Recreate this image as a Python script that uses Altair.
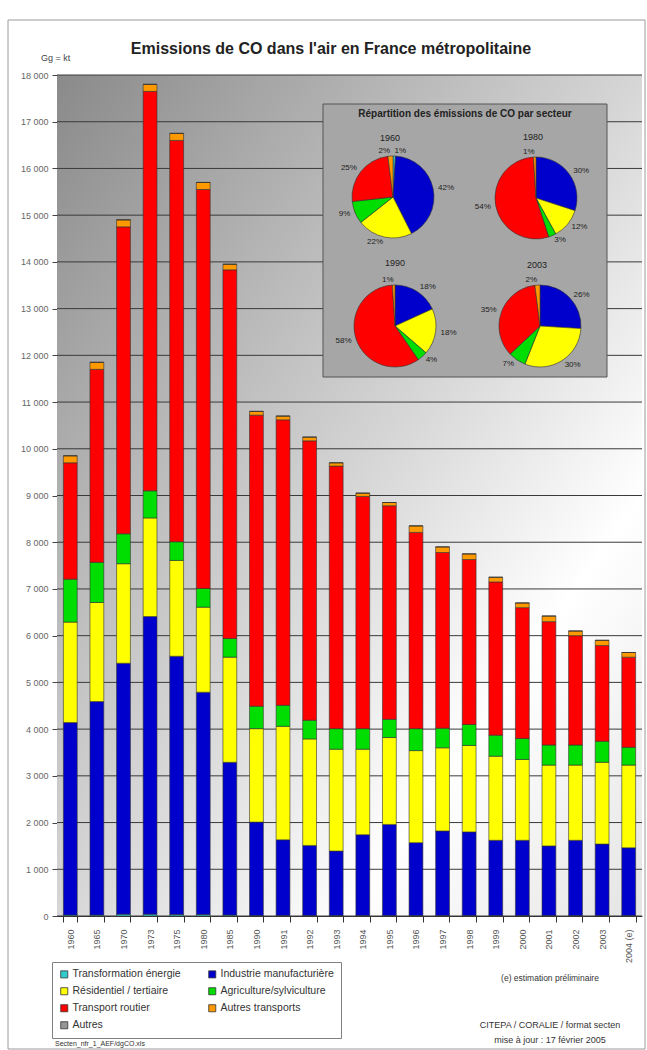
import altair as alt
import pandas as pd

# ---- data (Gg = kt) ----
years = ["1960", "1965", "1970", "1973", "1975", "1980", "1985", "1990", "1991",
         "1992", "1993", "1994", "1995", "1996", "1997", "1998", "1999", "2000",
         "2001", "2002", "2003", "2004 (e)"]

sectors = ["Transformation énergie", "Industrie manufacturière",
           "Résidentiel / tertiaire", "Agriculture/sylviculture",
           "Transport routier", "Autres transports", "Autres"]
sector_colors = ["#33cccc", "#0000cc", "#ffff00", "#00dd00",
                 "#ff0000", "#ff9900", "#969696"]
# legend is filled column by column: this order gives two rows per pair
legend_order = ["Transformation énergie", "Résidentiel / tertiaire",
                "Transport routier", "Autres", "Industrie manufacturière",
                "Agriculture/sylviculture", "Autres transports"]

transformation = [20, 20, 40, 40, 30, 30, 20, 10, 10, 10, 10, 10, 10, 10, 10,
                  10, 10, 10, 10, 10, 10, 10]
industrie = [4120, 4570, 5370, 6370, 5530, 4760, 3270, 2000, 1620, 1500, 1380,
             1730, 1950, 1560, 1810, 1790, 1610, 1610, 1490, 1610, 1530, 1450]
residentiel = [2150, 2120, 2130, 2110, 2050, 1820, 2250, 2000, 2430, 2280, 2180,
               1830, 1860, 1970, 1780, 1850, 1800, 1730, 1730, 1610, 1750, 1770]
agriculture = [920, 860, 640, 580, 400, 400, 400, 480, 450, 400, 440, 440, 390,
               470, 420, 450, 450, 450, 430, 430, 450, 380]
transport_routier = [2490, 4130, 6570, 8550, 8590, 8540, 7890, 6230, 6110, 5980,
                     5620, 4970, 4570, 4200, 3760, 3530, 3280, 2800, 2640, 2340,
                     2050, 1930]
autres_transports = [150, 150, 150, 150, 150, 150, 120, 80, 80, 80, 70, 70, 70,
                     140, 120, 120, 100, 100, 120, 100, 110, 100]
autres = [0] * 22

y_ticks = list(range(0, 18001, 1000))

# shares of each sector (%) for the four inset pies
pie_years = ["1960", "1980", "1990", "2003"]
pie_1960 = [1, 42, 22, 9, 25, 2]
pie_1980 = [0, 30, 12, 3, 54, 1]
pie_1990 = [0, 18, 18, 4, 58, 1]
pie_2003 = [0, 26, 30, 7, 35, 2]

title_text = "Emissions de CO dans l'air en France métropolitaine"
unit_text = "Gg = kt"
inset_title = "Répartition des émissions de CO par secteur"
note_estimate = "(e) estimation préliminaire"
note_file = "Secten_nfr_1_AEF/dgCO.xls"
note_source = "CITEPA /  CORALIE / format secten"
note_update = "mise à jour : 17 février 2005"

# ---- tables ----
series = [transformation, industrie, residentiel, agriculture,
          transport_routier, autres_transports, autres]
bar_rows = []
for i, (name, vals) in enumerate(zip(sectors, series)):
    for yr, v in zip(years, vals):
        bar_rows.append({"annee": yr, "secteur": name, "ordre": i, "valeur": v})
bars_df = pd.DataFrame(bar_rows)

pie_rows = []
for yr, shares in zip(pie_years, [pie_1960, pie_1980, pie_1990, pie_2003]):
    for i, p in enumerate(shares):
        if p > 0:
            pie_rows.append({"annee": yr, "secteur": sectors[i], "ordre": i, "pct": p})
pie_df = pd.DataFrame(pie_rows)

# ---- layout ----
W, H = 585, 841
FONT = "Liberation Sans"
color_scale = alt.Scale(domain=legend_order,
                        range=[sector_colors[sectors.index(s)] for s in legend_order])
y_scale = alt.Scale(domain=[0, 18000], nice=False)
y_axis = alt.Axis(title=unit_text, titleAngle=0, titleX=-2, titleY=-18,
                  titleAlign="center", titleBaseline="middle",
                  titleFontSize=9, titleFontWeight="normal",
                  titleColor="#444444", values=y_ticks,
                  labelExpr="replace(format(datum.value, ','), ',', ' ')",
                  labelFontSize=9, labelColor="#666666", tickSize=5,
                  tickColor="#444444", labelPadding=4, grid=False,
                  domainColor="#555555")

background = alt.Chart(pd.DataFrame({"k": [0]})).mark_rect(
    color=alt.LinearGradient(
        gradient="linear", x1=0, y1=0, x2=1, y2=1,
        stops=[alt.GradientStop(offset=0, color="#8a8a8a"),
               alt.GradientStop(offset=0.5, color="#d6d6d6"),
               alt.GradientStop(offset=0.75, color="#ffffff"),
               alt.GradientStop(offset=1, color="#e4e4e4")])
).encode(x=alt.value(0), x2=alt.value(W), y=alt.value(0), y2=alt.value(H))

gridlines = alt.Chart(pd.DataFrame({"valeur": y_ticks})).mark_rule(
    color="#3a3a3a", strokeWidth=1
).encode(y=alt.Y("valeur:Q", scale=y_scale, axis=y_axis))

bars = alt.Chart(bars_df).mark_bar(stroke="#333333", strokeWidth=0.6).encode(
    x=alt.X("annee:N", sort=years,
            scale=alt.Scale(paddingInner=0.48, paddingOuter=0.24),
            axis=alt.Axis(title="", labelAngle=270, labelAlign="right",
                          labelBaseline="middle", labelPadding=7,
                          labelFontSize=9, labelColor="#555555",
                          tickBand="extent", tickSize=6, tickColor="#333333",
                          domainColor="#333333", grid=False)),
    y=alt.Y("valeur:Q", stack="zero", scale=y_scale, axis=y_axis),
    color=alt.Color("secteur:N", scale=color_scale, sort=legend_order,
                    legend=alt.Legend(title=None, orient="none", legendX=-5,
                                      legendY=887, columns=2,
                                      symbolType="square", symbolSize=50,
                                      symbolStrokeColor="#333333",
                                      symbolStrokeWidth=0.8, labelFontSize=10.5,
                                      labelColor="#333333", labelLimit=220,
                                      strokeColor="#808080",
                                      fillColor="#ffffff", padding=7,
                                      rowPadding=6, columnPadding=26,
                                      labelOffset=3)),
    order=alt.Order("ordre:Q", sort="ascending"),
)

inset_box = alt.Chart(pd.DataFrame({"k": [0]})).mark_rect(
    fill="#a6a6a6", stroke="#555555", strokeWidth=1
).encode(x=alt.value(266), x2=alt.value(550), y=alt.value(29), y2=alt.value(302))


def text_layer(txt, x, y, **kw):
    return alt.Chart(pd.DataFrame({"t": [txt]})).mark_text(font=FONT, **kw).encode(
        text="t:N", x=alt.value(x), y=alt.value(y))


def pie(year, cx, cy):
    # slice angles (radians, clockwise from 12 o'clock) from cumulative shares
    base = alt.Chart(pie_df).transform_filter(
        alt.datum.annee == year
    ).transform_joinaggregate(
        total="sum(pct)"
    ).transform_window(
        cum="sum(pct)", sort=[alt.SortField("ordre", order="ascending")]
    ).transform_calculate(
        start="(datum.cum - datum.pct) / datum.total * 2 * PI",
        end="datum.cum / datum.total * 2 * PI",
        mid="(datum.cum - datum.pct / 2) / datum.total * 2 * PI",
        lab="datum.pct + '%'",
    )
    arc = base.mark_arc(radius=41, stroke="#333333", strokeWidth=0.6).encode(
        theta=alt.Theta("start:Q", scale=None),
        theta2="end:Q",
        color=alt.Color("secteur:N", scale=color_scale, legend=None),
        x=alt.value(cx), y=alt.value(cy),
    )
    right = base.transform_filter("datum.mid <= PI").mark_text(
        radius=46, fontSize=8, font=FONT, align="left", baseline="middle",
        color="#222222"
    ).encode(theta=alt.Theta("mid:Q", scale=None), text="lab:N",
             x=alt.value(cx), y=alt.value(cy))
    left = base.transform_filter("datum.mid > PI").mark_text(
        radius=46, fontSize=8, font=FONT, align="right", baseline="middle",
        color="#222222"
    ).encode(theta=alt.Theta("mid:Q", scale=None), text="lab:N",
             x=alt.value(cx), y=alt.value(cy))
    return [arc, right, left]


pie_layers = (pie("1960", 336, 122) + pie("1980", 479, 123)
              + pie("1990", 338, 251) + pie("2003", 483, 251))

texts = [
    text_layer(title_text, 274, -26, fontSize=16, fontWeight="bold", color="#222222"),
    text_layer(inset_title, 408, 39, fontSize=10, fontWeight="bold", color="#222222"),
    text_layer("1960", 333, 63, fontSize=9, color="#222222"),
    text_layer("1980", 476, 62, fontSize=9, color="#222222"),
    text_layer("1990", 338, 188, fontSize=9, color="#222222"),
    text_layer("2003", 480, 190, fontSize=9, color="#222222"),
    text_layer(note_estimate, 493, 903, fontSize=8.5, color="#333333"),
    text_layer(note_file, -2, 969, fontSize=7, align="left", color="#333333"),
    text_layer(note_source, 493, 950, fontSize=9, color="#333333"),
    text_layer(note_update, 493, 965, fontSize=9, color="#333333"),
]

frame = alt.Chart(pd.DataFrame({"k": [0]})).mark_rect(
    fillOpacity=0, stroke="#9a9a9a", strokeWidth=1
).encode(x=alt.value(-49), x2=alt.value(588), y=alt.value(-55), y2=alt.value(974))

chart = alt.layer(
    frame, background, gridlines, bars, inset_box, *pie_layers, *texts
).properties(
    width=W, height=H,
    autosize=alt.AutoSizeParams(type="none"),
    padding={"left": 57, "top": 75, "right": 5, "bottom": 134},
).configure(font=FONT).configure_view(strokeWidth=0)

chart.save("out.html", embed_options={"renderer": "svg", "actions": False})
